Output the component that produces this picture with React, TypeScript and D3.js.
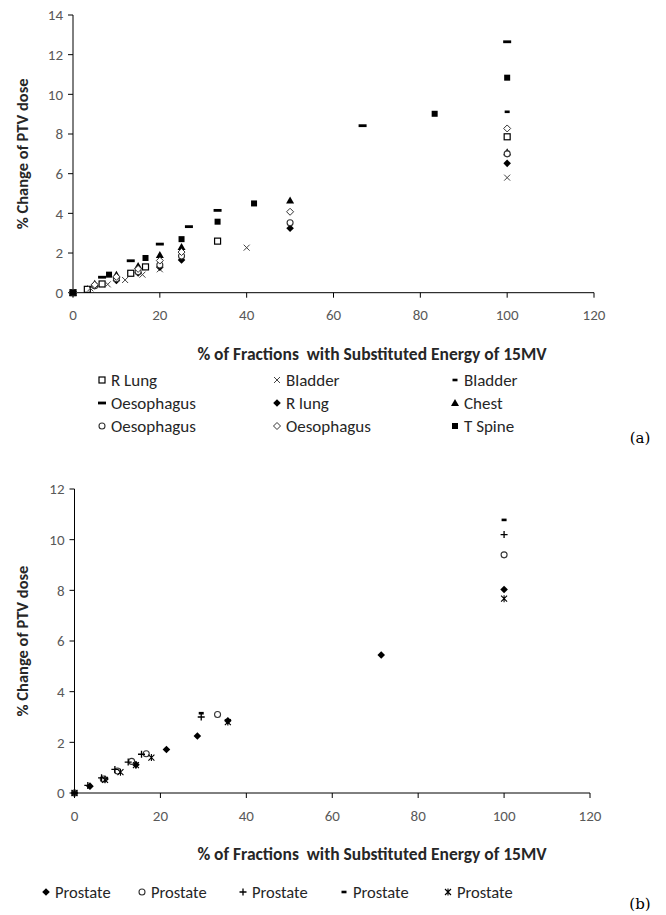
import React from "react";
import * as d3 from "d3";

// ---------- Chart (a) data ----------
const rLungSqX = [0, 3.3, 6.7, 13.3, 16.7, 33.3, 100];
const rLungSqY = [0, 0.17, 0.44, 0.98, 1.3, 2.6, 7.86];
const bladderXX = [0, 4, 8, 12, 16, 20, 40, 100];
const bladderXY = [0, 0.22, 0.42, 0.64, 0.91, 1.18, 2.27, 5.8];
const bladderDashX = [0, 100];
const bladderDashY = [0, 9.12];
const oesDashX = [0, 6.7, 13.3, 20, 26.7, 33.3, 66.7, 100];
const oesDashY = [0, 0.78, 1.61, 2.45, 3.33, 4.15, 8.42, 12.65];
const rLungDiaX = [0, 5, 10, 15, 20, 25, 50, 100];
const rLungDiaY = [0, 0.35, 0.62, 1.0, 1.28, 1.65, 3.25, 6.52];
const chestX = [0, 5, 10, 15, 20, 25, 50, 100];
const chestY = [0, 0.45, 0.9, 1.35, 1.9, 2.3, 4.65, 7.08];
const oesCircX = [0, 5, 10, 15, 20, 25, 50, 100];
const oesCircY = [0, 0.35, 0.7, 1.05, 1.4, 1.85, 3.53, 7.0];
const oesDiaX = [0, 5, 10, 15, 20, 25, 50, 100];
const oesDiaY = [0, 0.4, 0.8, 1.2, 1.62, 2.05, 4.08, 8.28];
const tSpineX = [0, 8.3, 16.7, 25, 33.3, 41.7, 83.3, 100];
const tSpineY = [0, 0.91, 1.75, 2.7, 3.58, 4.5, 9.02, 10.84];

const namesA = ["R Lung", "Bladder", "Bladder", "Oesophagus", "R lung", "Chest", "Oesophagus", "Oesophagus", "T Spine"];
const markersA = ["squareOpen", "cross", "smallDash", "wideDash", "diamond", "triangle", "circleOpen", "diamondOpen", "squareFilled"];
const seriesAX = [rLungSqX, bladderXX, bladderDashX, oesDashX, rLungDiaX, chestX, oesCircX, oesDiaX, tSpineX];
const seriesAY = [rLungSqY, bladderXY, bladderDashY, oesDashY, rLungDiaY, chestY, oesCircY, oesDiaY, tSpineY];
const yTicksA = [0, 2, 4, 6, 8, 10, 12, 14];

// ---------- Chart (b) data ----------
const pro1X = [0, 3.6, 7.1, 14.3, 21.4, 28.6, 35.7, 71.4, 100];
const pro1Y = [0, 0.27, 0.55, 1.12, 1.72, 2.25, 2.85, 5.45, 8.03];
const pro2X = [0, 6.7, 10, 13.3, 16.7, 33.3, 100];
const pro2Y = [0, 0.55, 0.87, 1.25, 1.55, 3.1, 9.4];
const pro3X = [0, 3.1, 6.3, 9.4, 12.5, 15.6, 29.5, 100];
const pro3Y = [0, 0.3, 0.6, 0.93, 1.22, 1.53, 3.0, 10.2];
const pro4X = [0, 29.5, 100];
const pro4Y = [0, 3.15, 10.78];
const pro5X = [0, 7.1, 10.7, 14.3, 17.9, 35.7, 100];
const pro5Y = [0, 0.52, 0.82, 1.1, 1.4, 2.8, 7.67];

const namesB = ["Prostate", "Prostate", "Prostate", "Prostate", "Prostate"];
const markersB = ["diamond", "circleOpen", "plus", "smallDash", "star"];
const seriesBX = [pro1X, pro2X, pro3X, pro4X, pro5X];
const seriesBY = [pro1Y, pro2Y, pro3Y, pro4Y, pro5Y];
const yTicksB = [0, 2, 4, 6, 8, 10, 12];

const xTicks = [0, 20, 40, 60, 80, 100, 120];
const xTitle = "% of Fractions  with Substituted Energy of 15MV";
const yTitle = "% Change of PTV dose";

const FONT = "Carlito, Lato, 'Liberation Sans', sans-serif";

function Marker({ type, x, y }: { type: string; x: number; y: number }) {
  switch (type) {
    case "squareOpen":
      return <rect x={x - 3} y={y - 3} width={6} height={6} fill="white" stroke="#000" strokeWidth={1.2} />;
    case "squareFilled":
      return <rect x={x - 3} y={y - 3} width={6} height={6} fill="#000" />;
    case "cross":
      return (
        <path d={`M${x - 3},${y - 3}L${x + 3},${y + 3}M${x - 3},${y + 3}L${x + 3},${y - 3}`} stroke="#444" strokeWidth={1} />
      );
    case "smallDash":
      return <rect x={x - 2.5} y={y - 1.3} width={5} height={2.6} fill="#000" />;
    case "wideDash":
      return <rect x={x - 4} y={y - 1.4} width={8} height={2.8} fill="#000" />;
    case "diamond":
      return <path d={`M${x},${y - 3.8}L${x + 3.8},${y}L${x},${y + 3.8}L${x - 3.8},${y}Z`} fill="#000" />;
    case "diamondOpen":
      return (
        <path d={`M${x},${y - 3.5}L${x + 3.5},${y}L${x},${y + 3.5}L${x - 3.5},${y}Z`} fill="white" stroke="#333" strokeWidth={1} />
      );
    case "triangle":
      return <path d={`M${x},${y - 4}L${x + 4},${y + 3}L${x - 4},${y + 3}Z`} fill="#000" />;
    case "circleOpen":
      return <circle cx={x} cy={y} r={3} fill="white" stroke="#333" strokeWidth={1.1} />;
    case "plus":
      return <path d={`M${x - 3.5},${y}L${x + 3.5},${y}M${x},${y - 3.5}L${x},${y + 3.5}`} stroke="#000" strokeWidth={1.3} />;
    case "star":
      return (
        <path
          d={`M${x - 3},${y - 3}L${x + 3},${y + 3}M${x - 3},${y + 3}L${x + 3},${y - 3}M${x},${y - 3.5}L${x},${y + 3.5}`}
          stroke="#000"
          strokeWidth={1.1}
        />
      );
    default:
      return null;
  }
}

function Chart({
  x0, x1, y0, y1, yMax, yTicks, sx, sy, markers, titleY, labelY, yTitleCx,
}: any) {
  const xs = d3.scaleLinear().domain([0, 120]).range([x0, x1]);
  const ys = d3.scaleLinear().domain([0, yMax]).range([y0, y1]);
  const yMid = (y0 + y1) / 2;
  return (
    <g>
      <line x1={x0} x2={x0} y1={y1} y2={y0} stroke="#000" strokeWidth={1} />
      <line x1={x0} x2={x1} y1={y0} y2={y0} stroke="#000" strokeWidth={1} />
      {yTicks.map((t: number) => (
        <g key={"y" + t}>
          <line x1={x0 - 5} x2={x0} y1={ys(t)} y2={ys(t)} stroke="#000" />
          <text x={x0 - 10} y={ys(t)} dy="0.35em" textAnchor="end" fontSize={15} fill="#595959" fontFamily={FONT}>
            {t}
          </text>
        </g>
      ))}
      {xTicks.map((t) => (
        <g key={"x" + t}>
          <line x1={xs(t)} x2={xs(t)} y1={y0} y2={y0 + 5} stroke="#000" />
          <text x={xs(t)} y={labelY} dy="0.35em" textAnchor="middle" fontSize={15} fill="#595959" fontFamily={FONT}>
            {t}
          </text>
        </g>
      ))}
      <text
        x={372}
        y={titleY}
        dy="0.35em"
        textAnchor="middle"
        fontSize={17.5}
        fontWeight="bold"
        fill="#262626"
        fontFamily={FONT}
        style={{ whiteSpace: "pre" }}
      >
        {xTitle}
      </text>
      <text
        transform={`translate(${yTitleCx},${yMid}) rotate(-90)`}
        dy="0.35em"
        textAnchor="middle"
        fontSize={16.5}
        fontWeight="bold"
        fill="#262626"
        fontFamily={FONT}
      >
        {yTitle}
      </text>
      {sx.map((arr: number[], i: number) =>
        arr.map((v: number, j: number) => <Marker key={i + "-" + j} type={markers[i]} x={xs(v)} y={ys(sy[i][j])} />)
      )}
    </g>
  );
}

export default function App() {
  const legendAX = [102, 277, 455];
  const legendAY = [380, 403, 426];
  const legendBX = [46, 142, 243, 344, 448];
  return (
    <svg width={666} height={915} style={{ position: "absolute", left: 0, top: 0, background: "#fff" }}>
      <rect width={666} height={915} fill="#fff" />
      <Chart
        x0={73}
        x1={594}
        y0={292.7}
        y1={15}
        yMax={14}
        yTicks={yTicksA}
        sx={seriesAX}
        sy={seriesAY}
        markers={markersA}
        titleY={354}
        labelY={315}
        yTitleCx={22}
      />
      {namesA.map((n, i) => {
        const lx = legendAX[i % 3];
        const ly = legendAY[Math.floor(i / 3)];
        return (
          <g key={"la" + i}>
            <Marker type={markersA[i]} x={lx} y={ly} />
            <text x={lx + 9} y={ly} dy="0.35em" fontSize={17} fill="#262626" fontFamily={FONT}>
              {n}
            </text>
          </g>
        );
      })}
      <text x={640} y={438} dy="0.35em" textAnchor="middle" fontSize={15} fill="#000" fontFamily="'DejaVu Serif', serif">
        (a)
      </text>

      <Chart
        x0={74.5}
        x1={590}
        y0={793}
        y1={489}
        yMax={12}
        yTicks={yTicksB}
        sx={seriesBX}
        sy={seriesBY}
        markers={markersB}
        titleY={854}
        labelY={816}
        yTitleCx={22}
      />
      {namesB.map((n, i) => (
        <g key={"lb" + i}>
          <Marker type={markersB[i]} x={legendBX[i]} y={892} />
          <text x={legendBX[i] + 9} y={892} dy="0.35em" fontSize={16.5} fill="#262626" fontFamily={FONT}>
            {n}
          </text>
        </g>
      ))}
      <text x={640} y={904} dy="0.35em" textAnchor="middle" fontSize={15} fill="#000" fontFamily="'DejaVu Serif', serif">
        (b)
      </text>
    </svg>
  );
}
